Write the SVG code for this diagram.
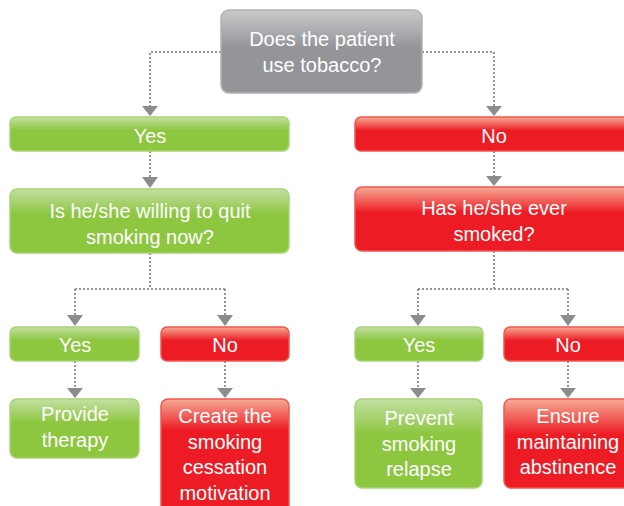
<svg xmlns="http://www.w3.org/2000/svg" width="624" height="506" viewBox="0 0 624 506">
<defs>
<linearGradient id="gG" x1="0" y1="0" x2="0" y2="1">
<stop offset="0" stop-color="#c3e0a2"/><stop offset="0.4" stop-color="#8dc63f"/><stop offset="1" stop-color="#8dc63f"/>
</linearGradient>
<linearGradient id="gR" x1="0" y1="0" x2="0" y2="1">
<stop offset="0" stop-color="#f5ab95"/><stop offset="0.4" stop-color="#ed1c24"/><stop offset="1" stop-color="#ed1c24"/>
</linearGradient>
<linearGradient id="gY" x1="0" y1="0" x2="0" y2="1">
<stop offset="0" stop-color="#c9cacc"/><stop offset="0.45" stop-color="#939598"/><stop offset="1" stop-color="#939598"/>
</linearGradient>
<linearGradient id="gGt" x1="0" y1="0" x2="0" y2="1">
<stop offset="0" stop-color="#c3e0a2"/><stop offset="0.25" stop-color="#8dc63f"/><stop offset="1" stop-color="#8dc63f"/>
</linearGradient>
<linearGradient id="gRt" x1="0" y1="0" x2="0" y2="1">
<stop offset="0" stop-color="#f5ab95"/><stop offset="0.25" stop-color="#ed1c24"/><stop offset="1" stop-color="#ed1c24"/>
</linearGradient>
</defs>
<style>
.g{fill:url(#gG);stroke:#a9d477;stroke-width:1.5}
.gt{fill:url(#gGt);stroke:#a9d477;stroke-width:1.5}
.r{fill:url(#gR);stroke:#f2564f;stroke-width:1.5}
.rt{fill:url(#gRt);stroke:#f2564f;stroke-width:1.5}
.y{fill:url(#gY);stroke:#b3b4b6;stroke-width:1.5}
text{font-family:"Liberation Sans",Arial,sans-serif;font-size:20px;fill:#ffffff;text-anchor:middle}
.c{fill:none;stroke:#939598;stroke-width:2;stroke-dasharray:2 2}
.a{fill:#8a8c8f}
</style>
<g id="connectors">
<path class="c" d="M221 52H150V106M422 52H494V106"/>
<polygon class="a" points="142,106 158,106 150,116"/>
<polygon class="a" points="486,106 502,106 494,116"/>
<path class="c" d="M150 151V177M494 151V176"/>
<polygon class="a" points="142,177 158,177 150,188"/>
<polygon class="a" points="486,176 502,176 494,186"/>
<path class="c" d="M150 253V289M75 289H225M75 289V315M225 289V315"/>
<path class="c" d="M494 251V289M418 289H568M418 289V315M568 289V315"/>
<polygon class="a" points="67,315 83,315 75,326"/>
<polygon class="a" points="217,315 233,315 225,326"/>
<polygon class="a" points="410,315 426,315 418,326"/>
<polygon class="a" points="560,315 576,315 568,326"/>
<path class="c" d="M75 361V388M225 361V388M418 361V388M568 361V388"/>
<polygon class="a" points="67,388 83,388 75,398"/>
<polygon class="a" points="217,388 233,388 225,398"/>
<polygon class="a" points="410,388 426,388 418,398"/>
<polygon class="a" points="560,388 576,388 568,398"/>
</g>
<g id="n-start"><rect class="y" x="221" y="10" width="201" height="83" rx="8"/><text x="322" y="46">Does the patient</text><text x="322" y="72">use tobacco?</text></g>
<g id="n-yes1"><rect class="g" x="10" y="117" width="279" height="34" rx="6"/><text x="150" y="143">Yes</text></g>
<g id="n-no1"><rect class="r" x="355" y="117" width="290" height="34" rx="6"/><text x="494" y="143">No</text></g>
<g id="n-willing"><rect class="g" x="10" y="189" width="279" height="64" rx="7"/><text x="150" y="218">Is he/she willing to quit</text><text x="150" y="244">smoking now?</text></g>
<g id="n-ever"><rect class="r" x="355" y="187" width="290" height="64" rx="7"/><text x="494" y="215">Has he/she ever</text><text x="494" y="241">smoked?</text></g>
<g id="n-yes2"><rect class="g" x="10" y="327" width="129" height="34" rx="6"/><text x="75" y="352">Yes</text></g>
<g id="n-no2"><rect class="r" x="161" y="327" width="128" height="34" rx="6"/><text x="225" y="352">No</text></g>
<g id="n-yes3"><rect class="g" x="355" y="327" width="128" height="34" rx="6"/><text x="419" y="352">Yes</text></g>
<g id="n-no3"><rect class="r" x="504" y="327" width="140" height="34" rx="6"/><text x="568" y="352">No</text></g>
<g id="n-provide"><rect class="g" x="10" y="399" width="129" height="59" rx="7"/><text x="75" y="421">Provide</text><text x="75" y="447">therapy</text></g>
<g id="n-create"><rect class="rt" x="161" y="399" width="128" height="125" rx="7"/><text x="225" y="423">Create the</text><text x="225" y="449">smoking</text><text x="225" y="474">cessation</text><text x="225" y="500">motivation</text></g>
<g id="n-prevent"><rect class="g" x="355" y="399" width="127" height="89" rx="7"/><text x="419" y="425">Prevent</text><text x="419" y="451">smoking</text><text x="419" y="476">relapse</text></g>
<g id="n-ensure"><rect class="r" x="504" y="399" width="140" height="89" rx="7"/><text x="568" y="423">Ensure</text><text x="568" y="449">maintaining</text><text x="568" y="474">abstinence</text></g>
</svg>
